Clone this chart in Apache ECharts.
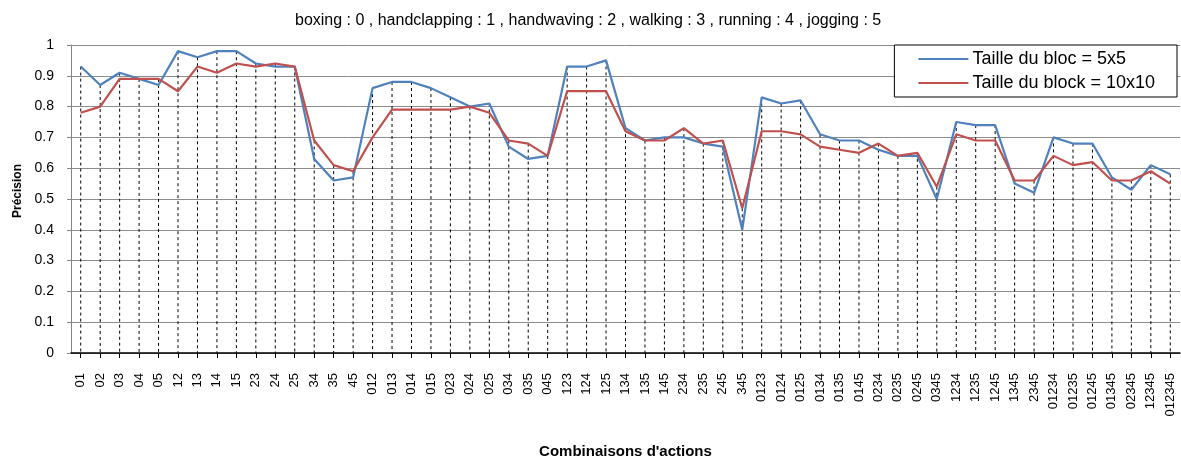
<!DOCTYPE html>
<html>
<head>
<meta charset="utf-8">
<script src="https://cdn.jsdelivr.net/npm/echarts@6/dist/echarts.min.js"></script>
<style>
  html, body { margin: 0; padding: 0; background: #fff; }
  #chart { width: 1181px; height: 459px; }
</style>
</head>
<body>
<div id="chart"></div>
<script>
// Action combinations (0 = boxing ... 5 = jogging)
const categories = ['01','02','03','04','05','12','13','14','15','23','24','25','34','35','45',
  '012','013','014','015','023','024','025','034','035','045',
  '123','124','125','134','135','145','234','235','245','345',
  '0123','0124','0125','0134','0135','0145','0234','0235','0245','0345',
  '1234','1235','1245','1345','2345',
  '01234','01235','01245','01345','02345','12345','012345'];

// Precision, block size 5x5
const bloc5x5 = [0.93,0.87,0.91,0.89,0.87,0.98,0.96,0.98,0.98,0.94,0.93,0.93,0.63,0.56,0.57,
  0.86,0.88,0.88,0.86,0.83,0.80,0.81,0.67,0.63,0.64,
  0.93,0.93,0.95,0.73,0.69,0.70,0.70,0.68,0.67,0.40,
  0.83,0.81,0.82,0.71,0.69,0.69,0.66,0.64,0.64,0.50,
  0.75,0.74,0.74,0.55,0.52,
  0.70,0.68,0.68,0.57,0.53,0.61,0.58];

// Precision, block size 10x10
const bloc10x10 = [0.78,0.80,0.89,0.89,0.89,0.85,0.93,0.91,0.94,0.93,0.94,0.93,0.69,0.61,0.59,
  0.70,0.79,0.79,0.79,0.79,0.80,0.78,0.69,0.68,0.64,
  0.85,0.85,0.85,0.72,0.69,0.69,0.73,0.68,0.69,0.47,
  0.72,0.72,0.71,0.67,0.66,0.65,0.68,0.64,0.65,0.54,
  0.71,0.69,0.69,0.56,0.56,
  0.64,0.61,0.62,0.56,0.56,0.59,0.55];

const seriesNames = ['Taille du bloc = 5x5', 'Taille du block = 10x10'];
const titleText = 'boxing : 0 , handclapping : 1 , handwaving : 2 , walking : 3 , running : 4 , jogging : 5';

const FONT = "'Liberation Sans', Arial, sans-serif";

// drop lines: from the higher of the two values down to zero
const dropData = categories.map((c, i) => [i, Math.max(bloc5x5[i], bloc10x10[i])]);

const chart = echarts.init(document.getElementById('chart'), null, { renderer: 'canvas' });
chart.setOption({
  animation: false,
  backgroundColor: '#ffffff',
  title: {
    text: titleText,
    left: 290,
    top: 8,
    textStyle: { fontFamily: FONT, fontSize: 16, fontWeight: 'normal', color: '#000' }
  },
  legend: {
    data: seriesNames,
    orient: 'vertical',
    right: 4,
    top: 45,
    icon: 'rect',
    itemWidth: 50,
    itemHeight: 2,
    itemGap: 6,
    padding: [5, 22, 5, 24],
    borderColor: '#000',
    borderWidth: 1,
    backgroundColor: '#fff',
    textStyle: { fontFamily: FONT, fontSize: 18, color: '#000', padding: [0, 0, 0, -1] }
  },
  grid: { left: 71, right: 1, top: 45, bottom: 106, containLabel: false, outerBoundsMode: 'none' },
  xAxis: {
    type: 'category',
    data: categories,
    boundaryGap: true,
    name: "Combinaisons d'actions",
    nameLocation: 'middle',
    nameGap: 91,
    nameTextStyle: { fontFamily: FONT, fontSize: 15, fontWeight: 'bold', color: '#000' },
    axisLine: { lineStyle: { color: '#000', width: 1.5 } },
    axisTick: { show: true, alignWithLabel: true, length: 5, lineStyle: { color: '#000' } },
    axisLabel: { rotate: 90, interval: 0, margin: 20, fontFamily: FONT, fontSize: 13, color: '#000' },
    splitLine: { show: false }
  },
  yAxis: {
    type: 'value',
    min: 0,
    max: 1,
    interval: 0.1,
    name: 'Précision',
    nameLocation: 'middle',
    nameGap: 47,
    nameTextStyle: { fontFamily: FONT, fontSize: 12, fontWeight: 'bold', color: '#000', padding: [0, 0, 0, 16] },
    axisLine: { show: true, lineStyle: { color: '#868686', width: 1 } },
    axisTick: { show: true, length: 4, lineStyle: { color: '#868686' } },
    axisLabel: { margin: 17, fontFamily: FONT, fontSize: 14, color: '#000' },
    splitLine: { show: true, lineStyle: { color: '#8c8c8c', width: 1 } }
  },
  series: [
    {
      name: 'drop',
      type: 'custom',
      z: 1,
      silent: true,
      data: dropData,
      renderItem: function (params, api) {
        const top = api.coord([api.value(0), api.value(1)]);
        const bot = api.coord([api.value(0), 0]);
        return {
          type: 'line',
          shape: { x1: top[0], y1: top[1], x2: bot[0], y2: bot[1] },
          style: { stroke: '#000', lineWidth: 1, lineDash: [3, 3] }
        };
      }
    },
    {
      name: seriesNames[0],
      type: 'line',
      z: 3,
      data: bloc5x5,
      symbol: 'none',
      lineStyle: { color: '#4F81BD', width: 2.2 },
      itemStyle: { color: '#4F81BD' }
    },
    {
      name: seriesNames[1],
      type: 'line',
      z: 3,
      data: bloc10x10,
      symbol: 'none',
      lineStyle: { color: '#C0504D', width: 2.2 },
      itemStyle: { color: '#C0504D' }
    }
  ]
});
</script>
</body>
</html>
